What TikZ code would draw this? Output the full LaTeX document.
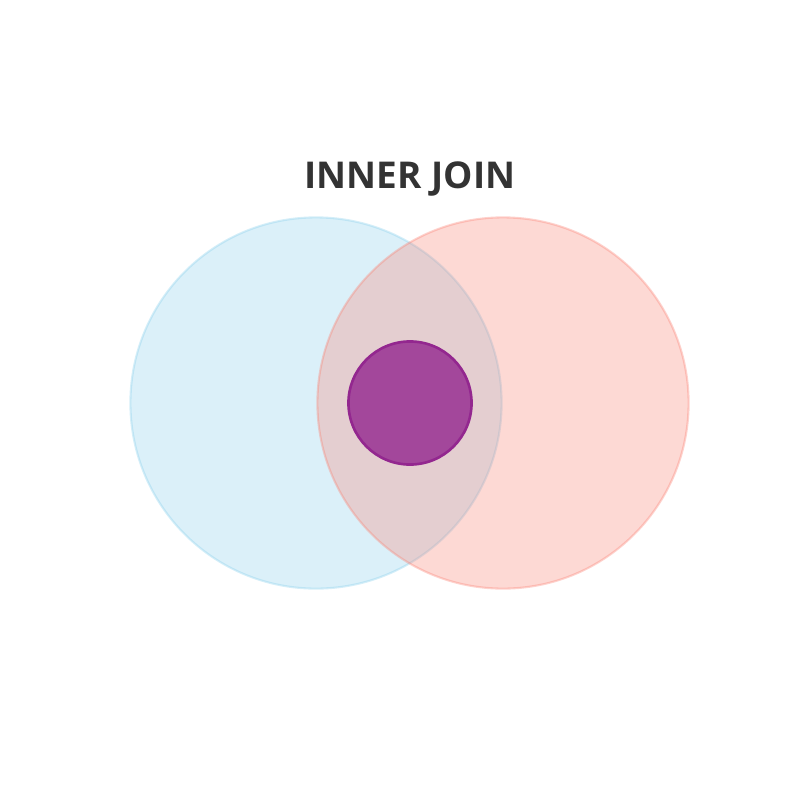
\documentclass[tikz,border=0pt]{standalone}
\usepackage{fontspec}
\setmainfont{Open Sans}
\definecolor{setblue}{HTML}{87CEEB}
\definecolor{setred}{HTML}{FA8072}
\definecolor{joinfill}{HTML}{800080}
\definecolor{joinedge}{HTML}{93278F}
\definecolor{titlegray}{HTML}{333333}
\begin{document}
\begin{tikzpicture}[x=0.01cm, y=-0.01cm,
    setcircle/.style={circle, inner sep=0pt, minimum size=3.71cm, line width=0.6pt},
    joincircle/.style={circle, inner sep=0pt, minimum size=1.23cm, line width=0.75pt,
        draw=joinedge, fill=joinfill, fill opacity=0.65, draw opacity=1}]

        % Canvas
        \useasboundingbox (0,0) rectangle (800,800);

        % Title
        \node[text=titlegray, font=\fontsize{10.5}{13}\selectfont\bfseries] (title) at (410,179) {INNER JOIN};

        % Left table
        \node[setcircle, fill=setblue, fill opacity=0.3, draw=setblue, draw opacity=0.35] (left) at (316,403) {};

        % Right table
        \node[setcircle, fill=setred, fill opacity=0.3, draw=setred, draw opacity=0.35] (right) at (503,403) {};

        % Matching rows
        \node[joincircle] (inner) at (410,403) {};

    \end{tikzpicture}
\end{document}
